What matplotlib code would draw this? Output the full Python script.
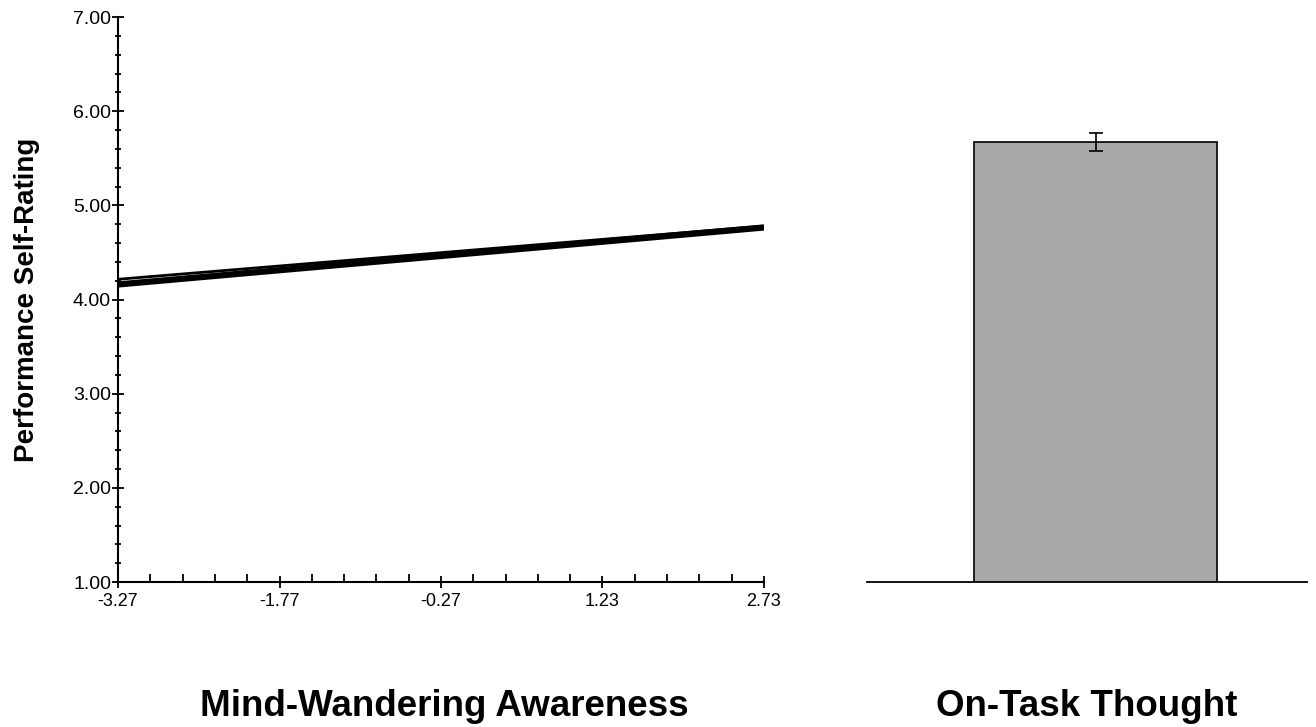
import numpy as np
import matplotlib.pyplot as plt
from matplotlib.ticker import FixedLocator

plt.rcParams['font.family'] = ['Liberation Sans', 'DejaVu Sans']

# Left panel: simple slopes of self-rating on mind-wandering awareness
awareness = [-3.27, 2.73]
rating_a = [4.215, 4.78]
rating_b = [4.16, 4.765]
x_ticks = [-3.27, -1.77, -0.27, 1.23, 2.73]
y_ticks = [1, 2, 3, 4, 5, 6, 7]

# Right panel: mean self-rating for on-task thought
bar_labels = ["On-Task Thought"]
bar_means = [5.67]
bar_errors = [0.095]

fig = plt.figure(figsize=(13.16, 7.27), dpi=100)

# Line plot
ax = fig.add_axes([0.0897, 0.1994, 0.4908, 0.7772])
ax.plot(awareness, rating_a, color="black", lw=2.0, solid_capstyle="butt")
ax.plot(awareness, rating_b, color="black", lw=4.5, solid_capstyle="butt")
ax.set_xlim(-3.27, 2.73)
ax.set_ylim(1, 7)
ax.spines["top"].set_visible(False)
ax.spines["right"].set_visible(False)
ax.spines["left"].set_linewidth(1.5)
ax.spines["bottom"].set_linewidth(1.5)
ax.xaxis.set_major_locator(FixedLocator(x_ticks))
ax.xaxis.set_minor_locator(FixedLocator(np.arange(-3.27, 2.74, 0.3)))
ax.yaxis.set_major_locator(FixedLocator(y_ticks))
ax.yaxis.set_minor_locator(FixedLocator(np.arange(1, 7.01, 0.2)))
ax.set_xticklabels([f"{v:.2f}" for v in x_ticks])
ax.set_yticklabels([f"{v:.2f}" for v in y_ticks])
ax.tick_params(axis="both", which="major", direction="inout", length=8,
               width=1.3, labelsize=13, colors="black")
ax.tick_params(axis="y", which="major", pad=1, labelsize=14)
ax.tick_params(axis="x", which="major", pad=4)
ax.tick_params(axis="y", which="minor", direction="inout", length=5, width=1.3)
ax.tick_params(axis="x", which="minor", direction="in", length=6, width=1.3)
ax.set_ylabel("Performance Self-Rating", fontsize=20, fontweight="bold",
              labelpad=24)

# Bar plot
bx = fig.add_axes([0.6588, 0.1994, 0.3344, 0.7772])
bx.bar([0], bar_means, width=0.6, bottom=0, color="#a9a9a9",
       edgecolor="black", linewidth=1.2)
bx.errorbar([0], bar_means, yerr=bar_errors, fmt="none", ecolor="black",
            elinewidth=1.2, capsize=5, capthick=1.2)
bx.set_xlim(-0.5645, 0.5225)
bx.set_ylim(1, 7)
for s in ["top", "right", "left"]:
    bx.spines[s].set_visible(False)
bx.spines["bottom"].set_linewidth(1.3)
bx.set_xticks([])
bx.set_yticks([])

fig.text(0.338, 0.015, "Mind-Wandering Awareness", ha="center",
         fontsize=26.5, fontweight="bold")
fig.text(0.826, 0.015, bar_labels[0], ha="center", fontsize=26.5,
         fontweight="bold")

fig.savefig("out.png", dpi=100)
